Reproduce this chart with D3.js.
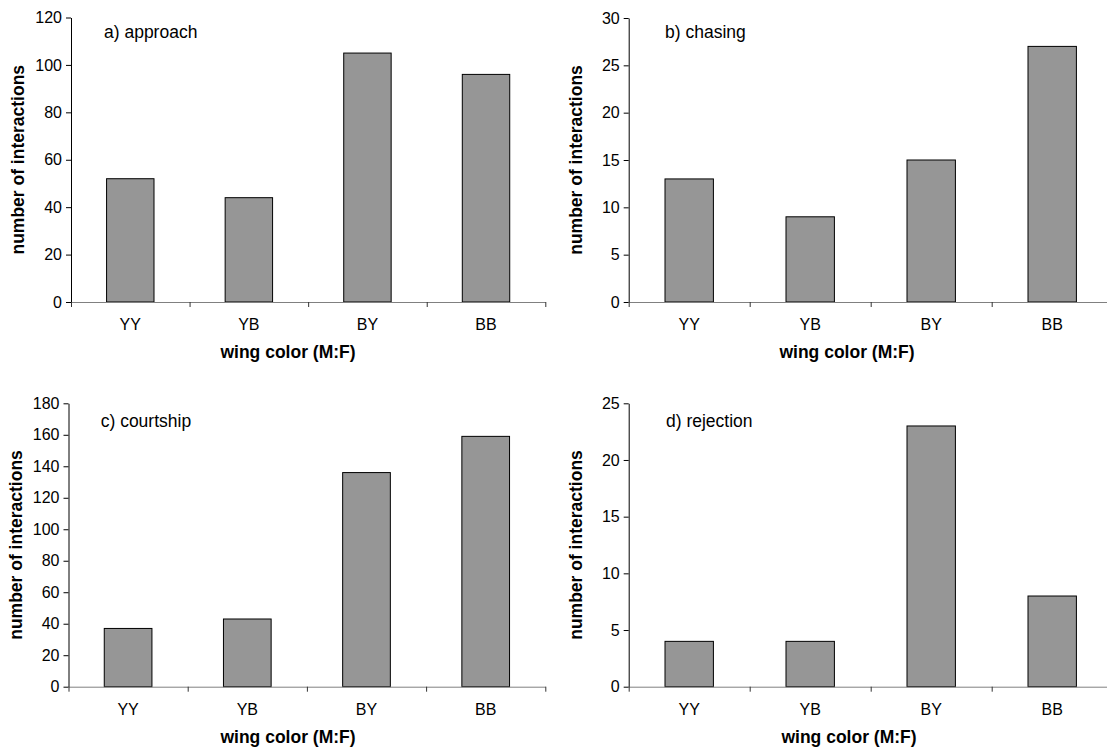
<!DOCTYPE html>
<html>
<head>
<meta charset="utf-8">
<script src="https://cdn.jsdelivr.net/npm/d3@7"></script>
<style>
  body { margin: 0; background: #fff; }
  svg { display: block; font-family: 'Liberation Sans', Arial, sans-serif; }
  .ytitle, .xtitle { font-size: 17.5px; font-weight: bold; }
  .plabel { font-size: 17.5px; }
</style>
</head>
<body>
<div id="charts-container"></div>
<script>
const categories = ['YY', 'YB', 'BY', 'BB'];

const approach = [52, 44, 105, 96];
const chasing = [13, 9, 15, 27];
const courtship = [37, 43, 136, 159];
const rejection = [4, 4, 23, 8];

const panelTitles = ['a) approach', 'b) chasing', 'c) courtship', 'd) rejection'];
const yMax = [120, 30, 180, 25];
const yStep = [20, 5, 20, 5];

const yTitle = 'number of interactions';
const xTitle = 'wing color (M:F)';

// plot boxes (pixels) for the 4 panels
const boxes = [
  { left: 71, right: 545.3, top: 17.5, bottom: 302, label: [104, 38], xt: 288 },
  { left: 628.7, right: 1112.7, top: 18, bottom: 302, label: [665, 37.5], xt: 847 },
  { left: 68.5, right: 545.3, top: 403.3, bottom: 686.7, label: [100.7, 427], xt: 288 },
  { left: 628.7, right: 1112.7, top: 403.3, bottom: 686.7, label: [666, 427], xt: 849 },
];

const svg = d3.select('#charts-container').append('svg')
  .attr('width', 1107)
  .attr('height', 750);

function styleTicks(sel) {
  sel.attr('font-family', null).attr('font-size', null);
  sel.selectAll('.tick text')
    .style('font-family', "'Liberation Sans', Arial, sans-serif")
    .style('font-size', '16px')
    .style('fill', '#000');
}

function drawPanel(values, i) {
  const b = boxes[i];
  const g = svg.append('g');

  const x = d3.scaleBand()
    .domain(categories)
    .range([b.left, b.right])
    .paddingInner(0.6)
    .paddingOuter(0.3);

  // tick marks sit between categories
  const xEdge = d3.scaleLinear()
    .domain([0, categories.length])
    .range([b.left, b.right]);

  const y = d3.scaleLinear()
    .domain([0, yMax[i]])
    .range([b.bottom, b.top]);

  g.selectAll('rect.bar')
    .data(values)
    .enter()
    .append('rect')
    .attr('class', 'bar')
    .attr('x', (d, j) => x(categories[j]))
    .attr('y', d => y(d))
    .attr('width', x.bandwidth())
    .attr('height', d => y(0) - y(d))
    .style('fill', '#969696')
    .style('stroke', '#000')
    .style('stroke-width', 1);

  const yAxis = d3.axisLeft(y)
    .tickValues(d3.range(0, yMax[i] + 0.001, yStep[i]))
    .tickSizeInner(5)
    .tickSizeOuter(0)
    .tickPadding(4);

  const yg = g.append('g')
    .attr('transform', `translate(${b.left}, 0)`)
    .call(yAxis)
    .call(styleTicks);
  yg.select('.domain').attr('stroke', '#000');

  const xTicks = d3.axisBottom(xEdge)
    .tickValues(d3.range(0, categories.length + 1))
    .tickFormat('')
    .tickSizeInner(5)
    .tickSizeOuter(0);

  const xg = g.append('g')
    .attr('transform', `translate(0, ${b.bottom})`)
    .call(xTicks);
  xg.select('.domain').attr('stroke', '#808080');
  xg.selectAll('.tick line').attr('stroke', '#333');

  const xLabels = d3.axisBottom(x)
    .tickSize(0)
    .tickPadding(17);

  const xl = g.append('g')
    .attr('transform', `translate(0, ${b.bottom})`)
    .call(xLabels)
    .call(styleTicks);
  xl.select('.domain').remove();

  g.append('text')
    .attr('class', 'ytitle')
    .attr('transform', `translate(${b.left - 47}, ${(b.top + b.bottom) / 2}) rotate(-90)`)
    .attr('text-anchor', 'middle')
    .text(yTitle);

  g.append('text')
    .attr('class', 'xtitle')
    .attr('x', b.xt)
    .attr('y', b.bottom + 56)
    .attr('text-anchor', 'middle')
    .text(xTitle);

  g.append('text')
    .attr('class', 'plabel')
    .attr('x', b.label[0])
    .attr('y', b.label[1])
    .text(panelTitles[i]);
}

[approach, chasing, courtship, rejection].forEach(drawPanel);
</script>
</body>
</html>
